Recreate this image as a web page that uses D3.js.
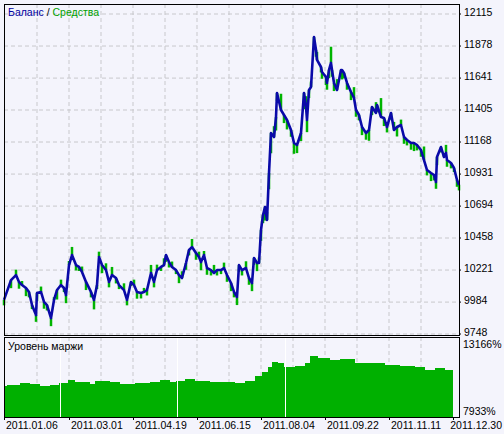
<!DOCTYPE html>
<html><head><meta charset="utf-8">
<script src="https://cdn.jsdelivr.net/npm/d3@7"></script>
<style>body{margin:0;background:#f4f4fc}svg{display:block}text{font-family:"Liberation Sans",sans-serif;font-size:10.5px}</style>
</head><body><svg id="c" width="504" height="434"></svg>
<script>
const tradeIdx=[0,7,12,15,18,22,25,28,32,33,37,40,43,47,50,53,57,60,62,65,68,72,75,78,82,87,90,93,95,98,102,105,108,112,115,120,123,127,130,133,137,140,143,147,150,153,157,160,162,165,168,172,175,178,182,185,188,192,195,197,200,203,207,210,213,217,220,223,227,230,233,235,238,242,245,248,250,253,255,257,259,261,263,265,267,270,272,273,277,280,283,287,290,293,297,300,302,303,305,307,310,312,313,317,318,322,323,325,327,328,330,333,337,338,340,343,347,350,352,355,358,362,365,368,372,373,377,380,383,387,390,393,397,400,403,407,410,413,417,420,423,427,430,432,433,437,440,442,443,447,450,453,455];
const balance=[10000,10147,10184,10133,10110,10088,10059,9962,9888,10051,10059,9985,9962,9866,10000,10073,10110,10088,10036,10258,10332,10258,10244,10207,10133,10059,10000,10110,10317,10258,10221,10133,10184,10162,10110,10073,10000,10133,10110,10059,10051,10059,10073,10199,10133,10221,10244,10258,10332,10280,10244,10221,10184,10162,10273,10369,10391,10347,10317,10280,10332,10236,10221,10199,10221,10221,10236,10184,10125,10059,10022,10258,10221,10236,10162,10125,10310,10273,10273,10517,10628,10687,10591,10939,11235,11205,11353,11531,11405,11368,11331,11257,11161,11146,11235,11531,11427,11331,11553,11575,11945,11849,11775,11723,11686,11649,11605,11701,11753,11701,11605,11553,11701,11701,11679,11605,11538,11494,11405,11368,11279,11235,11257,11427,11383,11442,11353,11346,11279,11383,11257,11279,11294,11205,11183,11161,11161,11146,11109,11035,10961,10939,10924,10872,11057,11131,11057,11087,11035,11013,10976,10887,10850];
const equityDelta=[-40,-60,40,-50,30,-60,-40,-30,-50,-60,40,-50,-40,-60,20,-70,40,-30,-60,30,60,-40,-30,40,-60,-40,-70,-30,40,-60,50,-40,60,-40,-30,50,-40,-30,40,-50,-40,30,-40,60,-40,40,-30,50,-50,-40,40,-30,-60,50,-50,-40,60,-50,40,-60,30,-50,-40,60,-40,-30,40,-50,-60,-40,-60,-50,-40,50,-50,-60,-50,-60,40,-80,-60,-100,60,-120,-150,80,-100,-60,120,-60,-70,-50,-80,-60,-60,-120,80,-90,-60,40,-60,-50,60,-40,-50,-60,-50,-60,120,-50,-60,80,-50,-70,-40,-50,-60,80,-50,-40,-60,-50,-80,-60,80,-50,140,-60,-40,-50,60,-70,40,-50,-40,-50,-60,-40,-50,100,-40,-60,-40,-50,-60,-40,30,60,-50,-40,-30,-50,-40,-30,-40];
const marginIdx=[0,3,16,26,36,46,51,55,56,64,71,86,91,106,116,131,146,156,166,172,173,181,191,206,221,231,241,251,258,264,268,274,280,281,291,301,306,314,326,336,351,366,381,396,411,421,431,441,449];
const marginLevel=[10013,10080,10214,10147,10013,10080,10080,10214,10214,10415,10281,10147,10348,10281,10147,10214,10281,10415,10281,10348,10348,10482,10348,10281,10281,10214,10348,10684,10952,11287,11623,11556,11287,11287,11355,11556,12025,11891,11757,11824,11556,11556,11422,11355,11287,11086,11220,11086,10952];
const marginGaps=[56,173,281];
const yTicks=[12115,11878,11641,11405,11168,10931,10694,10458,10221,9984,9748];
const dateTicks=[[0,"2011.01.06"],[65,"2011.03.01"],[129,"2011.04.19"],[193,"2011.06.15"],[257,"2011.08.04"],[321,"2011.09.22"],[385,"2011.11.11"],[449,"2011.12.30"]];

const svg=d3.select("#c");
const L=4,R=459,T1=4,B1=335,T2=337,B2=417;
const x=d3.scaleLinear().domain([0,449]).range([4,453]);
const y=d3.scaleLinear().domain([9748,12115]).range([334,14]);
const ym=d3.scaleLinear().domain([7933,13166]).range([417,339]);
svg.append("rect").attr("width",504).attr("height",434).attr("fill","#f4f4fc");
const grid=svg.append("g").attr("stroke","#c8c8cc").attr("stroke-dasharray","4,3");
for(let i=1;i<14;i++){const gx=5+32*i;
 grid.append("line").attr("x1",gx).attr("x2",gx).attr("y1",T1).attr("y2",B1);
 grid.append("line").attr("x1",gx).attr("x2",gx).attr("y1",T2).attr("y2",B2);}
yTicks.forEach(v=>grid.append("line").attr("x1",L).attr("x2",R).attr("y1",y(v)).attr("y2",y(v)));
const eq=balance.map((b,i)=>b+equityDelta[i]);
const pts=tradeIdx.map((t,i)=>({t,b:balance[i],e:eq[i]}));
const eqG=svg.append("g");
pts.forEach(p=>eqG.append("line").attr("x1",x(p.t)).attr("x2",x(p.t)).attr("y1",y(p.b)).attr("y2",y(p.e)).attr("stroke","#00b400").attr("stroke-width",2.5));
svg.append("path").datum(pts).attr("fill","none").attr("stroke","#0a0aa8").attr("stroke-width",2.6).attr("stroke-linejoin","round")
 .attr("d",d3.line().x(p=>x(p.t)).y(p=>y(p.b)));
const mp=marginIdx.map((t,i)=>({t,v:marginLevel[i]}));
svg.append("path").datum(mp).attr("fill","#00b000")
 .attr("d",d3.area().x(p=>x(p.t)).y0(B2).y1(p=>ym(p.v)).curve(d3.curveStepAfter));
marginGaps.forEach(g=>svg.append("line").attr("x1",x(g)+0.5).attr("x2",x(g)+0.5).attr("y1",T2).attr("y2",B2).attr("stroke","#fff").attr("stroke-width",1));
svg.append("rect").attr("x",L+0.5).attr("y",T1+0.5).attr("width",R-L).attr("height",B1-T1).attr("fill","none").attr("stroke","#000");
svg.append("rect").attr("x",L+0.5).attr("y",T2+0.5).attr("width",R-L).attr("height",B2-T2).attr("fill","none").attr("stroke","#000");
yTicks.forEach(v=>{svg.append("line").attr("x1",R).attr("x2",R+2).attr("y1",y(v)).attr("y2",y(v)).attr("stroke","#000");
 svg.append("text").attr("x",R+5).attr("y",y(v)+2).text(v);});
svg.append("text").attr("x",R+4).attr("y",348).text("13166%");
svg.append("text").attr("x",R+4).attr("y",415).text("7933%");
dateTicks.forEach(([t,s],i)=>{svg.append("line").attr("x1",x(t)+0.5).attr("x2",x(t)+0.5).attr("y1",B2).attr("y2",B2+3).attr("stroke","#000");
 const last=i===dateTicks.length-1;
 svg.append("text").attr("x",last?502:x(t)+2).attr("text-anchor",last?"end":"start").attr("y",429).text(s);});
const tt=svg.append("text").attr("x",8).attr("y",16);
tt.append("tspan").attr("fill","#0000a0").text("Баланс");
tt.append("tspan").attr("fill","#000").text(" / ");
tt.append("tspan").attr("fill","#00a000").text("Средства");
svg.append("text").attr("x",8).attr("y",350).text("Уровень маржи");
</script></body></html>
